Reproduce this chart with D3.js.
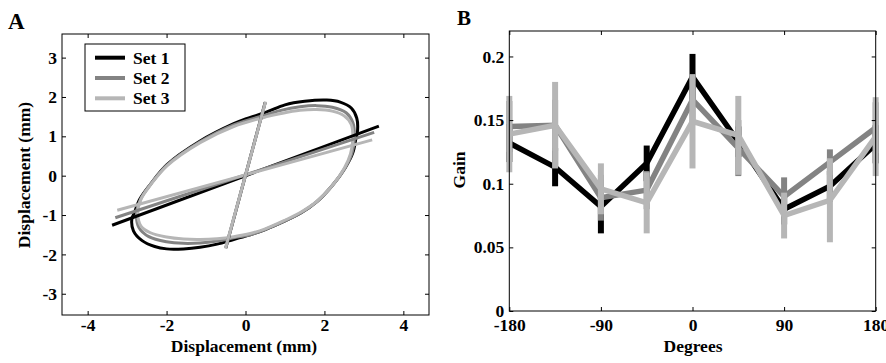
<!DOCTYPE html>
<html><head><meta charset="utf-8">
<script src="https://cdn.jsdelivr.net/npm/d3@7"></script>
<style>
html,body{margin:0;padding:0;background:#fff;}
svg text{font-family:"Liberation Serif","Times New Roman",serif;font-weight:bold;fill:#000;}
</style></head>
<body>
<svg id="chart" width="886" height="363"></svg>
<script>
// ---------- Panel A data ----------
const setNames = ["Set 1", "Set 2", "Set 3"];
const setColors = ["#000000", "#838383", "#b6b6b6"];
const loopSet1 = [[2.80,0.95],[2.84,1.15],[2.82,1.46],[2.68,1.72],[2.40,1.87],[2.06,1.92],[1.5,1.89],[1.0,1.80],[0.54,1.62],[0,1.44],[-0.30,1.32],[-1.15,0.88],[-1.99,0.28],[-2.41,-0.22],[-2.68,-0.60],[-2.82,-0.95],[-2.88,-1.10],[-2.84,-1.40],[-2.62,-1.65],[-2.30,-1.80],[-2.0,-1.86],[-1.57,-1.86],[-1.15,-1.82],[-0.72,-1.74],[-0.3,-1.62],[0.12,-1.50],[0.5,-1.37],[0.96,-1.17],[1.4,-0.95],[1.81,-0.66],[2.2,-0.25],[2.52,0.19],[2.72,0.58]];
const loopSet2 = [[2.76,0.95],[2.72,1.35],[2.55,1.60],[2.2,1.74],[1.8,1.78],[1.38,1.75],[0.9,1.66],[0.54,1.55],[-0.30,1.29],[-1.15,0.86],[-1.99,0.27],[-2.41,-0.22],[-2.65,-0.58],[-2.76,-0.95],[-2.70,-1.32],[-2.45,-1.55],[-2.0,-1.68],[-1.57,-1.72],[-1.15,-1.71],[-0.72,-1.66],[-0.3,-1.58],[0.12,-1.50],[0.5,-1.37],[0.96,-1.17],[1.4,-0.95],[1.81,-0.66],[2.2,-0.25],[2.52,0.19],[2.70,0.58]];
const loopSet3 = [[2.72,0.95],[2.68,1.30],[2.50,1.52],[2.2,1.64],[1.8,1.68],[1.38,1.66],[0.9,1.58],[0.54,1.50],[-0.30,1.25],[-1.15,0.84],[-1.99,0.25],[-2.41,-0.24],[-2.65,-0.60],[-2.73,-0.95],[-2.65,-1.28],[-2.41,-1.45],[-2.0,-1.56],[-1.57,-1.61],[-1.15,-1.62],[-0.72,-1.60],[-0.3,-1.55],[0.12,-1.47],[0.5,-1.35],[0.96,-1.15],[1.4,-0.93],[1.81,-0.65],[2.2,-0.25],[2.5,0.18],[2.66,0.55]];
const shallowSet1 = [[-3.38,-1.26],[3.38,1.26]];
const shallowSet2 = [[-3.30,-1.07],[3.26,1.10]];
const shallowSet3 = [[-3.25,-0.88],[3.21,0.91]];
const steepSet1 = [[-0.50,-1.84],[0.50,1.86]];
const steepSet2 = [[-0.50,-1.84],[0.50,1.87]];
const steepSet3 = [[-0.51,-1.85],[0.51,1.88]];
const aXTicks = [-4,-2,0,2,4];
const aYTicks = [-3,-2,-1,0,1,2,3];

// ---------- Panel B data ----------
const degrees = [-180,-135,-90,-45,0,45,90,135,180];
const gainSet1 = [0.132,0.113,0.082,0.116,0.184,0.133,0.080,0.098,0.131];
const errSet1  = [0.015,0.015,0.021,0.014,0.018,0.012,0.012,0.012,0.015];
const gainSet2 = [0.145,0.146,0.089,0.095,0.166,0.128,0.090,0.117,0.144];
const errSet2  = [0.020,0.020,0.018,0.015,0.020,0.022,0.015,0.010,0.020];
const gainSet3 = [0.139,0.146,0.096,0.085,0.149,0.138,0.075,0.087,0.137];
const errSet3  = [0.030,0.034,0.020,0.024,0.037,0.031,0.018,0.033,0.031];
const bXTicks = [-180,-90,0,90,180];
const bYTicks = [0,0.05,0.1,0.15,0.2];

const svg = d3.select("#chart");
const hy = d => String(d).replace("\u2212","-");

function frame(g, x, y, xt, yt, padX) {
  const [x0,x1] = x.range(), [y0,y1] = y.range();
  g.append("g").attr("transform",`translate(0,${y0})`)
    .call(d3.axisBottom(x).tickValues(xt).tickSizeInner(-4).tickSizeOuter(0).tickPadding(padX).tickFormat(hy))
    .call(s=>{s.select(".domain").remove();s.selectAll("text").attr("font-size",17.5).attr("font-family",null).attr("dy","0.71em");});
  g.append("g").attr("transform",`translate(0,${y1})`)
    .call(d3.axisTop(x).tickValues(xt).tickSizeInner(-4).tickSizeOuter(0).tickFormat(""))
    .call(s=>s.select(".domain").remove());
  g.append("g").attr("transform",`translate(${x0},0)`)
    .call(d3.axisLeft(y).tickValues(yt).tickSizeInner(-4).tickSizeOuter(0).tickPadding(5).tickFormat(hy))
    .call(s=>{s.select(".domain").remove();s.selectAll("text").attr("font-size",17.5).attr("font-family",null);});
  g.append("g").attr("transform",`translate(${x1},0)`)
    .call(d3.axisRight(y).tickValues(yt).tickSizeInner(-4).tickSizeOuter(0).tickFormat(""))
    .call(s=>s.select(".domain").remove());
  g.selectAll(".tick line").attr("stroke","#000");
  g.append("rect").attr("x",x0).attr("y",y1).attr("width",x1-x0).attr("height",y0-y1)
    .attr("fill","none").attr("stroke","#000").attr("stroke-width",1);
}

// ---------- Panel A ----------
const xA = d3.scaleLinear().domain([-4.65,4.65]).range([62,429]);
const yA = d3.scaleLinear().domain([-3.54,3.6]).range([315,34]);
const gA = svg.append("g");
const loops = [loopSet1, loopSet2, loopSet3];
const shallows = [shallowSet1, shallowSet2, shallowSet3];
const steeps = [steepSet1, steepSet2, steepSet3];
const closedLine = d3.line().x(d=>xA(d[0])).y(d=>yA(d[1])).curve(d3.curveCatmullRomClosed.alpha(0.5));
const straight = d3.line().x(d=>xA(d[0])).y(d=>yA(d[1]));
loops.forEach((lp,i)=>{
  gA.append("path").attr("d",closedLine(lp)).attr("fill","none").attr("stroke",setColors[i]).attr("stroke-width",3);
});
shallows.forEach((ln,i)=>{
  gA.append("path").attr("d",straight(ln)).attr("fill","none").attr("stroke",setColors[i]).attr("stroke-width",3);
});
steeps.forEach((ln,i)=>{
  gA.append("path").attr("d",straight(ln)).attr("fill","none").attr("stroke",setColors[i]).attr("stroke-width",3);
});
frame(gA, xA, yA, aXTicks, aYTicks, 4);
// legend
const leg = gA.append("g");
leg.append("rect").attr("x",85).attr("y",44).attr("width",100).attr("height",67)
  .attr("fill","#fff").attr("stroke","#000").attr("stroke-width",1);
setNames.forEach((n,i)=>{
  const yy = 57.7 + i*20.3;
  leg.append("line").attr("x1",95).attr("x2",125).attr("y1",yy).attr("y2",yy)
    .attr("stroke",setColors[i]).attr("stroke-width",4);
  leg.append("text").attr("x",133).attr("y",yy+6).attr("font-size",17.5).text(n);
});
svg.append("text").attr("x",8).attr("y",29).attr("font-size",23).text("A");
svg.append("text").attr("x",244).attr("y",352).attr("text-anchor","middle").attr("font-size",17.5).text("Displacement (mm)");
svg.append("text").attr("transform","translate(30,175) rotate(-90)").attr("text-anchor","middle").attr("font-size",17.5).text("Displacement (mm)");

// ---------- Panel B ----------
const xB = d3.scaleLinear().domain([-180,180]).range([509.3,875.7]);
const yB = d3.scaleLinear().domain([0,0.22]).range([311,31]);
const gB = svg.append("g");
const gains = [gainSet1, gainSet2, gainSet3];
const errs = [errSet1, errSet2, errSet3];
const lineB = d3.line().x((d,i)=>xB(degrees[i])).y(d=>yB(d));
gains.forEach((gs,k)=>{
  gB.append("path").attr("d",lineB(gs)).attr("fill","none").attr("stroke",setColors[k]).attr("stroke-width",5.5);
  gB.selectAll(null).data(gs).enter().append("line")
    .attr("x1",(d,i)=>xB(degrees[i])).attr("x2",(d,i)=>xB(degrees[i]))
    .attr("y1",(d,i)=>yB(d-errs[k][i])).attr("y2",(d,i)=>yB(d+errs[k][i]))
    .attr("stroke",setColors[k]).attr("stroke-width",6);
});
frame(gB, xB, yB, bXTicks, bYTicks, 8);
svg.append("text").attr("x",457).attr("y",25).attr("font-size",21).text("B");
svg.append("text").attr("x",693).attr("y",352).attr("text-anchor","middle").attr("font-size",17.5).text("Degrees");
svg.append("text").attr("transform","translate(465,170) rotate(-90)").attr("text-anchor","middle").attr("font-size",17.5).text("Gain");
</script>
</body></html>
